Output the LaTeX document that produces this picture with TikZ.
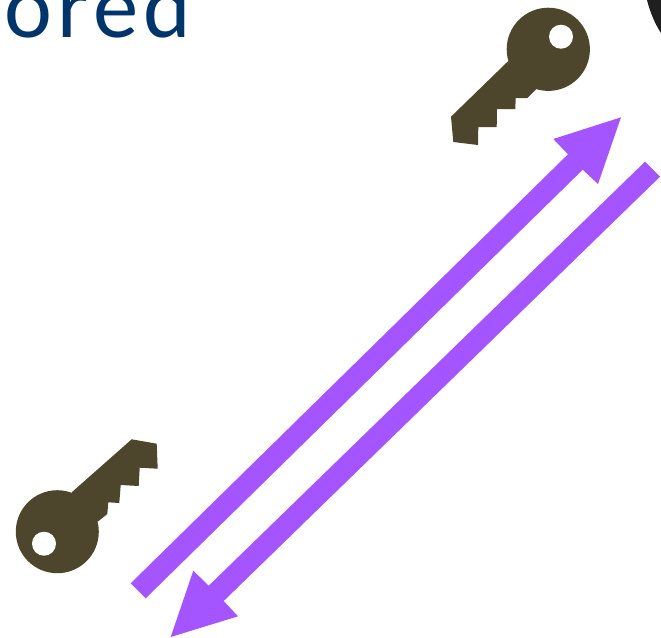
\documentclass[tikz,border=0pt]{standalone}
\usepackage{fontspec}
\setmainfont{Carlito}
\definecolor{keycol}{HTML}{4D452C}
\definecolor{arrowcol}{HTML}{A455FF}
\definecolor{textcol}{HTML}{00356B}
\tikzset{
  keyshape/.style={fill=keycol,draw=none},
  hole/.style={fill=white,draw=none},
  arrowshape/.style={fill=arrowcol,draw=none},
  word/.style={text=textcol,inner sep=0pt,anchor=base west,font=\fontsize{68}{68}\selectfont\addfontfeatures{LetterSpace=6}}
}
\begin{document}
\begin{tikzpicture}[x=0.75pt,y=-0.75pt]
\useasboundingbox (0,0) rectangle (661,637);
\clip (0,0) rectangle (661,637);
\fill[white] (0,0) rectangle (661,637);
\node[word] (w) at (4,37) {ored};
% top right dark shape
\fill[black!88] (647,0) .. controls (650,12) and (655,24) .. (661,33) -- (661,0) -- cycle;
% upper key
\fill[keyshape] (548.3,49.3) circle (41.6);
\fill[keyshape] (508.3,61) -- (451,116.7) -- (453.3,142) -- (478,145) -- (478.3,127) -- (496.7,127) -- (497,109) -- (515.3,109) -- (515.7,98) -- (527.3,98) -- (536,89.3) -- cycle;
\fill[hole] (561,36.7) circle (12);
% lower key
\fill[keyshape] (57.3,531.7) circle (41.5);
\fill[keyshape] (71.7,492.3) -- (131.7,439.3) -- (156.7,443.7) -- (157.7,468.7) -- (139.7,467.7) -- (138.7,486) -- (120.7,485) -- (119.3,503) -- (108.3,502.3) -- (107.3,514) -- (97.7,521.7) -- cycle;
\fill[hole] (44,543.7) circle (12);
% arrows
\fill[arrowshape] (130.7,583.3) -- (568,154.3) -- (553.3,139) -- (621,117.3) -- (598,184) -- (582.7,169.7) -- (145.7,598.3) -- cycle;
\fill[arrowshape] (660,176.7) -- (223.7,601) -- (238,616.3) -- (170.7,637) -- (193.3,570.7) -- (208.7,585.7) -- (645,161.7) -- cycle;
\end{tikzpicture}
\end{document}
